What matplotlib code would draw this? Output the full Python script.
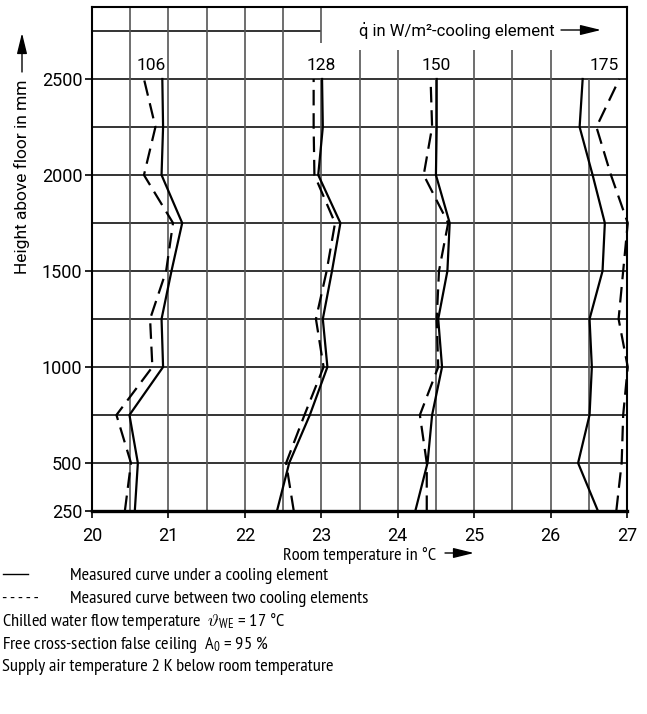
import matplotlib
matplotlib.use("Agg")
import matplotlib.pyplot as plt
from matplotlib import font_manager
from matplotlib.lines import Line2D
from matplotlib.patches import FancyArrowPatch

# measured room temperatures (degC) per height above floor (mm)
heights = [250, 500, 750, 1000, 1250, 1500, 1750, 2000, 2250, 2500]

t106_under = [20.56, 20.60, 20.49, 20.93, 20.91, 21.04, 21.18, 20.91, 20.93, 20.92]
t106_between = [20.43, 20.51, 20.32, 20.79, 20.76, 20.97, 21.06, 20.68, 20.83, 20.68]
t128_under = [22.42, 22.58, 22.85, 23.08, 23.02, 23.14, 23.25, 22.96, 23.02, 23.01]
t128_between = [22.64, 22.54, 22.78, 23.03, 22.93, 23.07, 23.18, 22.91, 22.90, 22.90]
t150_under = [24.23, 24.39, 24.45, 24.58, 24.53, 24.65, 24.68, 24.50, 24.51, 24.51]
t150_between = [24.38, 24.38, 24.29, 24.53, 24.51, 24.54, 24.66, 24.34, 24.45, 24.43]
t175_under = [26.62, 26.36, 26.51, 26.54, 26.51, 26.68, 26.71, 26.55, 26.38, 26.42]
t175_between = [26.86, 26.93, 26.95, 27.01, 26.89, 26.95, 27.01, 26.79, 26.60, 26.90]

q_labels = ["106", "128", "150", "175"]
x_ticks = [20, 21, 22, 23, 24, 25, 26, 27]
y_ticks = [250, 500, 1000, 1500, 2000, 2500]

legend_lines = ["Measured curve under a cooling element",
                "Measured curve between two cooling elements"]
notes = [
    "Chilled water flow temperature  $\\vartheta_{\\mathrm{WE}}$ = 17 °C",
    "Free cross-section false ceiling  A$_0$ = 95 %",
    "Supply air temperature 2 K below room temperature",
]


def pick_font(names, default="DejaVu Sans"):
    for n in names:
        try:
            font_manager.findfont(n, fallback_to_default=False)
            return n
        except ValueError:
            continue
    return default


MAIN = pick_font(["Roboto", "Liberation Sans"])
NARROW = pick_font(["PT Sans Narrow", "Barlow Semi Condensed", "Archivo Narrow"], MAIN)

plt.rcParams["font.family"] = [MAIN, "DejaVu Sans"]
plt.rcParams["mathtext.fontset"] = "custom"
plt.rcParams["mathtext.rm"] = NARROW
plt.rcParams["mathtext.it"] = NARROW + ":italic"

W, H = 647, 714
fig = plt.figure(figsize=(W / 100, H / 100), dpi=100)
ax = fig.add_axes([92 / W, 1 - 511 / H, 535 / W, 504 / H])

X0, X1, Y0, Y1 = 20, 27, 250, 2875
ax.set_xlim(X0, X1)
ax.set_ylim(Y0, Y1)

# grid (partly cut out for the q-labels and header)
hcol, vcol = "#111111", "#555555"
for y in [500, 750, 1000, 1250, 1500, 1750, 2000, 2250, 2500]:
    ax.hlines(y, X0, X1, color=hcol, lw=1.2, zorder=1)
ax.hlines(2750, X0, 23.0, color=hcol, lw=1.2, zorder=1)
for x in [20.5, 21.0, 21.5, 22.0, 22.5]:
    ax.vlines(x, Y0, Y1, color=vcol, lw=1.2, zorder=1)
ax.vlines(23.0, Y0, 2500, color=vcol, lw=1.2, zorder=1)
ax.vlines(23.0, 2685, Y1, color=vcol, lw=1.2, zorder=1)
for x in [23.5, 24.0, 25.0, 25.5, 26.0]:
    ax.vlines(x, Y0, 2650, color=vcol, lw=1.2, zorder=1)
for x in [24.5, 26.5]:
    ax.vlines(x, Y0, 2500, color=vcol, lw=1.2, zorder=1)

under = [t106_under, t128_under, t150_under, t175_under]
between = [t106_between, t128_between, t150_between, t175_between]
for tu, tb in zip(under, between):
    ax.plot(tu, heights, color="black", lw=1.6, zorder=3, clip_on=False)
    ax.plot(tb, heights, color="black", lw=1.6, dashes=(7, 3.5), zorder=3, clip_on=False)

label_x = [20.77, 23.0, 24.5, 26.7]
for lx, txt in zip(label_x, q_labels):
    ax.text(lx, 2570, txt, ha="center", va="center", fontsize=12.5, zorder=4)

ax.set_xticks(x_ticks)
ax.set_xticklabels([str(v) for v in x_ticks])
ax.set_yticks(y_ticks)
ax.set_yticklabels([str(v) for v in y_ticks])
ax.tick_params(axis="both", length=5, width=1.2, labelsize=13, color="black")
ax.tick_params(axis="x", pad=6.5)
ax.tick_params(axis="y", pad=2)
for s in ["left", "right", "top"]:
    ax.spines[s].set_linewidth(1.5)
ax.spines["bottom"].set_linewidth(2.4)
ax.spines["right"].set_zorder(5)


def fx(px):
    return px / W


def fy(py):
    return 1 - py / H


arrow = dict(arrowstyle="-|>,head_length=0.9,head_width=0.22", color="black", lw=1.0,
             shrinkA=0, shrinkB=0, mutation_scale=14)

# header inside plot
fig.text(fx(359), fy(30), "q\u0307 in W/m²-cooling element", fontsize=12, va="center", ha="left")
fig.add_artist(FancyArrowPatch((fx(561), fy(30)), (fx(601), fy(30)),
                               transform=fig.transFigure, **arrow))

# y label with arrow
fig.text(fx(22), fy(177), "Height above floor in mm", rotation=90, fontsize=12.5,
         ha="center", va="center")
fig.add_artist(FancyArrowPatch((fx(22), fy(72)), (fx(22), fy(33)),
                               transform=fig.transFigure, **arrow))

# size the narrow font so the first legend line is ~257 px wide, like the original
probe = fig.text(0, 0, legend_lines[0], fontsize=13, family=NARROW)
fig.canvas.draw()
fs_n = 13 * 257 / probe.get_window_extent().width
fs_n = min(max(fs_n, 10), 15)
probe.remove()

# x label with arrow
fig.text(fx(283), fy(560), "Room temperature in °C", fontsize=fs_n, family=NARROW,
         ha="left", va="baseline")
fig.add_artist(FancyArrowPatch((fx(445), fy(553)), (fx(474), fy(553)),
                               transform=fig.transFigure, **arrow))

# notes below chart
fig.add_artist(Line2D([fx(3), fx(28)], [fy(574), fy(574)], color="black", lw=1.0,
                      transform=fig.transFigure))
fig.text(fx(70), fy(580), legend_lines[0], fontsize=fs_n, family=NARROW, va="baseline")
fig.text(fx(2), fy(603), "- - - - -", fontsize=fs_n, family=NARROW, va="baseline")
fig.text(fx(70), fy(603), legend_lines[1], fontsize=fs_n, family=NARROW, va="baseline")
for i, line in enumerate(notes):
    fig.text(fx(2), fy(626 + i * 22.7), line, fontsize=fs_n, family=NARROW, va="baseline")

fig.savefig("out.png", dpi=100)
